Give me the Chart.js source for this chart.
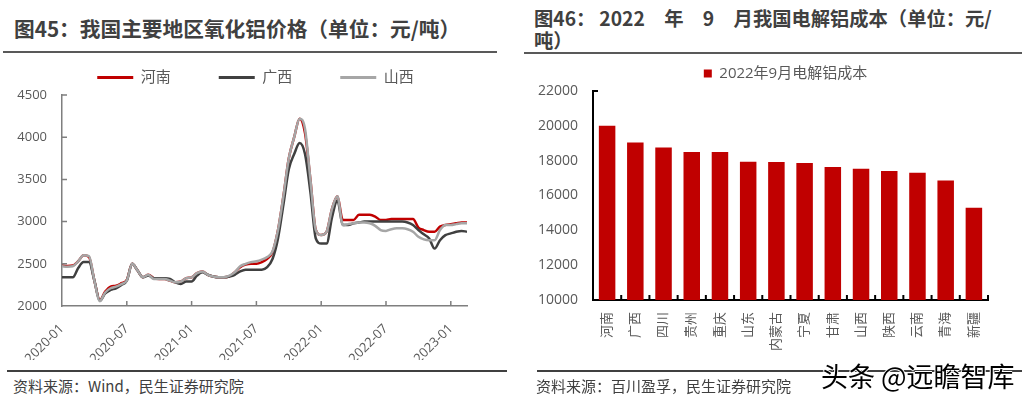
<!DOCTYPE html>
<html lang="zh-CN">
<head>
<meta charset="utf-8">
<script src="https://cdn.jsdelivr.net/npm/chart.js@4.4.1/dist/chart.umd.min.js"></script>
<style>
  body { margin: 0; width: 1022px; height: 400px; overflow: hidden; background: #fff; position: relative;
         font-family: "Noto Sans CJK SC", sans-serif; }
  .title { position: absolute; font-weight: bold; color: #404040; white-space: nowrap; }
  .rule { position: absolute; height: 2px; background: #595959; }
  .foot { position: absolute; height: 2px; background: #404040; top: 370px; }
  .src { position: absolute; top: 377px; font-size: 15px; line-height: 18px; color: #404040; white-space: nowrap; }
  .box { position: absolute; top: 56px; width: 511px; height: 304px; }
  #wm { position: absolute; left: 821px; top: 360px; font-size: 27px; line-height: 32px; color: #000; white-space: nowrap;
        text-shadow: -1px 0 #fff, 1px 0 #fff, 0 -1px #fff, 0 1px #fff; }
</style>
</head>
<body>
<div class="title" style="left:14px; top:16px; font-size:20.7px; line-height:24px;">图45：我国主要地区氧化铝价格（单位：元/吨）</div>
<div class="rule" style="left:3px; top:51px; width:494px;"></div>
<div class="title" style="left:534px; top:7px; font-size:19.3px; line-height:22px; word-spacing:15px;">图46：<span style="margin-left:4px;">2022 年 9 月我国电解铝成本（单位：元/</span><br>吨）</div>
<div class="rule" style="left:524px; top:52px; width:498px;"></div>

<div class="box" style="left:0px;"><canvas id="priceChart"></canvas></div>
<div class="box" style="left:530px;"><canvas id="costChart"></canvas></div>

<div class="foot" style="left:7px; width:500px;"></div>
<div class="foot" style="left:537px; width:485px;"></div>
<div class="src" style="left:13px;">资料来源：Wind，民生证券研究院</div>
<div class="src" style="left:536px;">资料来源：百川盈孚，民生证券研究院</div>
<div id="wm">头条 @远瞻智库</div>

<script>
// 氧化铝价格，半月一个点，2020-01 起（元/吨）
const xTickLabels = ['2020-01', '2020-07', '2021-01', '2021-07', '2022-01', '2022-07', '2023-01'];
const henan = [
  2480, 2475, 2480, 2530, 2600, 2580, 2300, 2070, 2170, 2230, 2240, 2270, 2310, 2500, 2420, 2340,
  2370, 2330, 2320, 2320, 2300, 2280, 2290, 2330, 2340, 2390, 2410, 2370, 2350, 2340, 2340, 2350,
  2400, 2460, 2490, 2500, 2500, 2520, 2560, 2640, 2900, 3300, 3750, 4000, 4220, 4050, 3500, 2900,
  2840, 2880, 3150, 3300, 3020, 3020, 3020, 3080, 3080, 3080, 3060, 3020, 3020, 3030, 3030, 3030,
  3030, 3030, 2930, 2900, 2880, 2880, 2940, 2960, 2970, 2980, 2990, 2990
];
const guangxi = [
  2340, 2340, 2340, 2450, 2520, 2520, 2300, 2060, 2150, 2190, 2210, 2250, 2300, 2500, 2420, 2340,
  2360, 2330, 2330, 2330, 2320, 2280, 2260, 2290, 2290, 2360, 2400, 2370, 2350, 2340, 2340, 2350,
  2370, 2410, 2430, 2430, 2430, 2430, 2460, 2560, 2800, 3200, 3620, 3800, 3930, 3800, 3350, 2800,
  2740, 2740, 3050, 3250, 2960, 2960, 2980, 2990, 3000, 3000, 3000, 3000, 3000, 3000, 3000, 3000,
  2990, 2960, 2900, 2850, 2800, 2680, 2780, 2840, 2860, 2880, 2890, 2880
];
const shanxi = [
  2470, 2465, 2470, 2530, 2600, 2590, 2300, 2060, 2160, 2210, 2230, 2260, 2300, 2500, 2420, 2340,
  2370, 2320, 2320, 2320, 2300, 2280, 2290, 2330, 2340, 2390, 2410, 2370, 2350, 2340, 2340, 2360,
  2400, 2470, 2500, 2520, 2530, 2550, 2580, 2650, 2900, 3300, 3750, 4000, 4220, 4100, 3500, 2900,
  2840, 2880, 3150, 3300, 2960, 2970, 2980, 2990, 2990, 2980, 2950, 2900, 2890, 2910, 2920, 2920,
  2910, 2880, 2820, 2790, 2780, 2780, 2900, 2960, 2960, 2970, 2980, 2980
];

// 2022年9月电解铝成本（元/吨）
const provinces = ['河南', '广西', '四川', '贵州', '重庆', '山东', '内蒙古', '宁夏', '甘肃', '山西', '陕西', '云南', '青海', '新疆'];
const costs = [20000, 19050, 18760, 18500, 18500, 17940, 17920, 17870, 17640, 17530, 17410, 17300, 16860, 15300];

const numFont = '"Open Sans", "Noto Sans CJK SC", sans-serif';
const textGray = '#595959';
const axisGray = '#7f7f7f';

// 刻度线画在坐标轴内侧
const priceTicks = {
  id: 'priceTicks',
  afterDraw(chart) {
    const { ctx, scales: { x, y } } = chart;
    ctx.save();
    ctx.strokeStyle = axisGray;
    ctx.lineWidth = 1.5;
    ctx.beginPath();
    x.ticks.forEach(t => {
      if (t.value === x.min) return;
      const px = x.getPixelForValue(t.value);
      ctx.moveTo(px, x.top);
      ctx.lineTo(px, x.top - 5);
    });
    y.ticks.forEach(t => {
      if (t.value === y.min) return;
      const py = y.getPixelForValue(t.value);
      ctx.moveTo(y.right, py);
      ctx.lineTo(y.right + 5, py);
    });
    ctx.stroke();
    ctx.restore();
  }
};

const costTicks = {
  id: 'costTicks',
  afterDraw(chart) {
    const { ctx, scales: { x, y } } = chart;
    const n = provinces.length;
    ctx.save();
    ctx.strokeStyle = '#000';
    ctx.lineWidth = 2;
    ctx.beginPath();
    for (let i = 0; i <= n; i++) {
      const px = x.left + i * x.width / n;
      ctx.moveTo(px, x.top);
      ctx.lineTo(px, x.top - 5);
    }
    const top = y.getPixelForValue(y.max);
    ctx.moveTo(y.right, top);
    ctx.lineTo(y.right + 5, top);
    ctx.stroke();
    ctx.restore();
  }
};

const lineLegendLabels = chart =>
  Chart.defaults.plugins.legend.labels.generateLabels(chart).map(l => Object.assign(l, { lineWidth: 0 }));

const toPoints = arr => arr.map((v, i) => ({ x: i / 2, y: v }));

new Chart(document.getElementById('priceChart'), {
  type: 'line',
  data: {
    datasets: [
      { label: '河南', data: toPoints(henan), borderColor: '#c00000', backgroundColor: '#c00000', order: 2 },
      { label: '广西', data: toPoints(guangxi), borderColor: '#404040', backgroundColor: '#404040', order: 1 },
      { label: '山西', data: toPoints(shanxi), borderColor: '#a6a6a6', backgroundColor: '#a6a6a6', order: 0 }
    ]
  },
  options: {
    responsive: true,
    maintainAspectRatio: false,
    animation: false,
    layout: { padding: { top: -34, left: 0, right: 0, bottom: 0 } },
    elements: {
      line: { borderWidth: 2.5, fill: false, cubicInterpolationMode: 'monotone' },
      point: { radius: 0 }
    },
    plugins: {
      tooltip: { enabled: false },
      legend: {
        position: 'top',
        labels: {
          boxWidth: 36,
          boxHeight: 3,
          padding: 48,
          color: textGray,
          font: { family: numFont, size: 15 },
          generateLabels: lineLegendLabels,
          sort: (a, b) => a.datasetIndex - b.datasetIndex
        }
      }
    },
    scales: {
      x: {
        type: 'linear',
        min: 0,
        max: 37.5,
        grid: { display: false, drawTicks: false },
        border: { color: axisGray, width: 1.5 },
        afterBuildTicks: s => { s.ticks = xTickLabels.map((_, i) => ({ value: i * 6 })); },
        afterFit: s => { s.height = 54; s.paddingRight = 44; },
        ticks: {
          autoSkip: false,
          minRotation: 45,
          maxRotation: 45,
          padding: 15,
          color: textGray,
          font: { family: numFont, size: 13 },
          callback: v => xTickLabels[v / 6]
        }
      },
      y: {
        min: 2000,
        max: 4500,
        grid: { display: false, drawTicks: false },
        border: { color: axisGray, width: 1.5 },
        afterFit: s => { s.width = 62; },
        ticks: {
          stepSize: 500,
          padding: 15,
          color: textGray,
          font: { family: numFont, size: 13 },
          callback: v => String(v)
        }
      }
    }
  },
  plugins: [priceTicks]
});

new Chart(document.getElementById('costChart'), {
  type: 'bar',
  data: {
    labels: provinces,
    datasets: [{
      label: '2022年9月电解铝成本',
      data: costs,
      backgroundColor: '#c00000',
      borderWidth: 0,
      categoryPercentage: 1,
      barPercentage: 0.585
    }]
  },
  options: {
    responsive: true,
    maintainAspectRatio: false,
    animation: false,
    layout: { padding: 0 },
    plugins: {
      tooltip: { enabled: false },
      legend: {
        position: 'top',
        labels: {
          boxWidth: 8,
          boxHeight: 8,
          padding: 10,
          color: textGray,
          font: { family: numFont, size: 15 }
        }
      }
    },
    scales: {
      x: {
        grid: { display: false, drawTicks: false },
        border: { color: '#000', width: 2 },
        afterFit: s => { s.height = 60; s.paddingRight = 53; },
        ticks: {
          autoSkip: false,
          minRotation: 90,
          maxRotation: 90,
          padding: 12,
          color: textGray,
          font: { family: numFont, size: 13 }
        }
      },
      y: {
        min: 10000,
        max: 22000,
        grid: { display: false, drawTicks: false },
        border: { color: '#000', width: 2 },
        afterFit: s => { s.width = 63; },
        ticks: {
          stepSize: 2000,
          padding: 15,
          color: textGray,
          font: { family: numFont, size: 14 },
          callback: v => String(v)
        }
      }
    }
  },
  plugins: [costTicks]
});
</script>
</body>
</html>
